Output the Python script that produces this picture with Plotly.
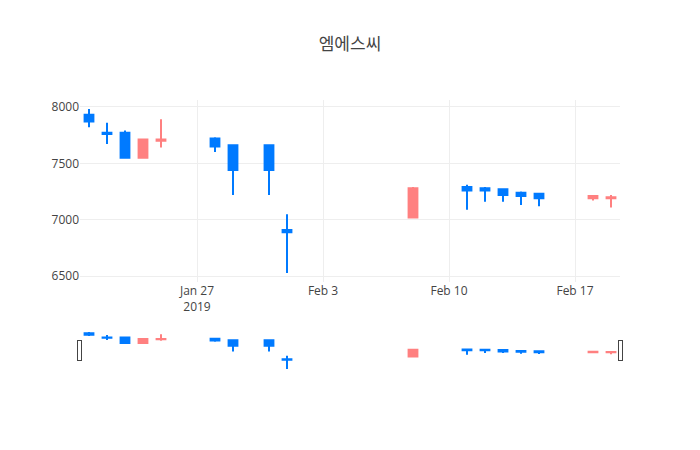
import plotly.graph_objects as go

dates = ["2019-01-21", "2019-01-22", "2019-01-23", "2019-01-24", "2019-01-25",
         "2019-01-28", "2019-01-29", "2019-01-31", "2019-02-01",
         "2019-02-08", "2019-02-11", "2019-02-12", "2019-02-13", "2019-02-14",
         "2019-02-15", "2019-02-18", "2019-02-19"]
opens = [7930, 7770, 7770, 7550, 7700, 7720, 7660, 7660, 6910,
         7020, 7290, 7280, 7270, 7240, 7230, 7190, 7190]
highs = [7980, 7860, 7790, 7720, 7890, 7730, 7660, 7660, 7050,
         7290, 7310, 7290, 7270, 7250, 7240, 7220, 7220]
lows = [7820, 7670, 7550, 7550, 7640, 7600, 7220, 7220, 6530,
        7020, 7090, 7160, 7160, 7130, 7120, 7170, 7110]
closes = [7870, 7760, 7550, 7710, 7710, 7650, 7440, 7440, 6890,
          7280, 7260, 7260, 7220, 7210, 7190, 7210, 7200]

fig = go.Figure(go.Candlestick(
    x=dates, open=opens, high=highs, low=lows, close=closes,
    increasing=dict(line=dict(color="#FF8080"), fillcolor="#FF8080"),
    decreasing=dict(line=dict(color="#007AFF"), fillcolor="#007AFF"),
))

fig.update_layout(
    template="none",
    width=700, height=450,
    title=dict(text="엠에스씨", x=0.5, font=dict(family="Noto Sans CJK KR", size=17, color="#444")),
    showlegend=False,
    xaxis=dict(rangeslider=dict(visible=True)),
)

fig.write_html("out.html", config={"displayModeBar": False},
               post_script="document.body.style.margin='0';")
